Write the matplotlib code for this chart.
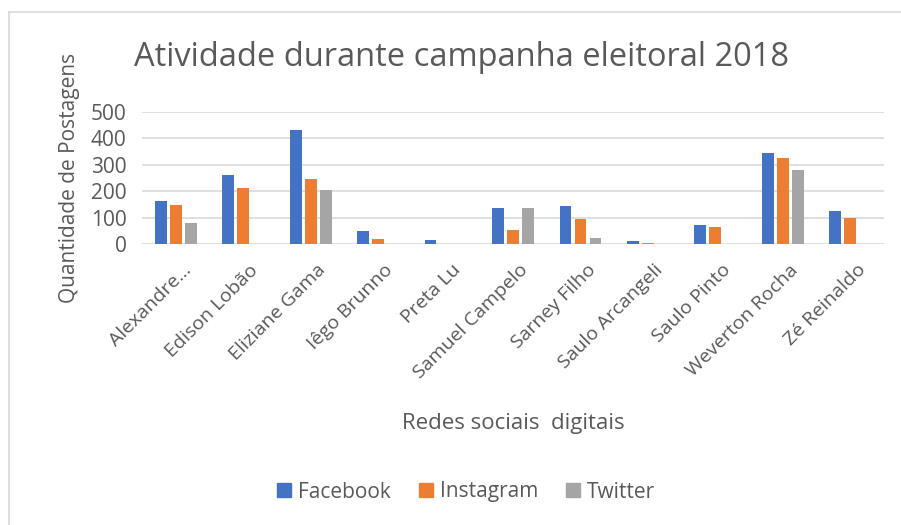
import matplotlib
matplotlib.use("Agg")
import matplotlib.pyplot as plt
import matplotlib.lines as mlines
import matplotlib.transforms as mtransforms
import numpy as np

plt.rcParams['font.family'] = ['Open Sans', 'DejaVu Sans']

candidates = ["Alexandre…", "Edison Lobão", "Eliziane Gama", "Iêgo Brunno", "Preta Lu",
              "Samuel Campelo", "Sarney Filho", "Saulo Arcangeli", "Saulo Pinto",
              "Weverton Rocha", "Zé Reinaldo"]
facebook = [164, 260, 431, 50, 16, 135, 144, 12, 72, 343, 126]
instagram = [146, 210, 245, 18, 0, 52, 93, 4, 64, 325, 100]
twitter = [78, 0, 205, 0, 0, 135, 23, 1, 0, 280, 0]

series = {"Facebook": (facebook, "#4472c4"),
          "Instagram": (instagram, "#ed7d31"),
          "Twitter": (twitter, "#a5a5a5")}

txt = "#595959"
fig = plt.figure(figsize=(9.01, 5.25), dpi=100)
ax = fig.add_axes([142/901, 1 - 244/525, 742/901, 132.3/525])

x = np.arange(len(candidates))
step = 0.222
width = 0.175
for i, (name, (vals, col)) in enumerate(series.items()):
    ax.bar(x + (i - 1) * step, vals, width, color=col, zorder=3)

ax.set_xlim(-0.5, len(candidates) - 0.5)
ax.set_ylim(0, 500)
ax.set_yticks(range(0, 501, 100))
ax.grid(axis='y', color='#d9d9d9', linewidth=1.2, zorder=0)
for s in ax.spines.values():
    s.set_visible(False)
ax.tick_params(length=0, colors=txt)
ax.tick_params(axis='y', pad=11, labelsize=15)
ax.set_xticks(x)
ax.set_xticklabels(candidates, rotation=45, ha='right', rotation_mode='anchor', fontsize=14)
shift = mtransforms.ScaledTranslation(6/100, -12/100, fig.dpi_scale_trans)
for lab in ax.get_xticklabels():
    lab.set_transform(lab.get_transform() + shift)

ax.set_ylabel("Quantidade de Postagens", color=txt, fontsize=15, labelpad=8)
ax.set_xlabel("Redes sociais  digitais", color=txt, fontsize=16, labelpad=22)
fig.text(462/901, 1 - 57/525, "Atividade durante campanha eleitoral 2018", ha='center', va='center',
         color=txt, fontsize=23.5)

handles = [mlines.Line2D([], [], color=col, marker='s', linestyle='none', markersize=9.5, label=name)
           for name, (vals, col) in series.items()]
fig.legend(handles=handles, loc='center', bbox_to_anchor=(466/901, 1 - 492/525), ncol=3,
           frameon=False, fontsize=15, labelcolor=txt, handlelength=0.7, handletextpad=0.35,
           columnspacing=1.3)

# chart border
fig.add_artist(mlines.Line2D([9/901, 9/901], [0, 1 - 12/525], color='#d9d9d9', linewidth=1.2))
fig.add_artist(mlines.Line2D([9/901, 1], [1 - 12/525, 1 - 12/525], color='#d9d9d9', linewidth=1.2))

fig.savefig("out.png", dpi=100)
